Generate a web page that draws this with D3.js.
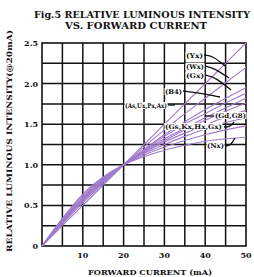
<!DOCTYPE html>
<html><head><meta charset="utf-8">
<script src="https://cdn.jsdelivr.net/npm/d3@7"></script>
<style>body{margin:0;background:#fff}svg{display:block}</style>
</head><body>
<svg id="c" width="254" height="277"></svg>
<script>
const current = [0,5,10,15,20,25,30,35,40,45,50];
const Yx  = [0,0.25,0.50,0.75,1,1.25,1.50,1.75,2.00,2.25,2.50];
const Wx  = [0,0.27,0.53,0.77,1,1.22,1.43,1.63,1.82,2.01,2.20];
const Gx  = [0,0.29,0.55,0.79,1,1.19,1.37,1.53,1.68,1.82,1.95];
const B4  = [0,0.29,0.56,0.79,1,1.18,1.35,1.50,1.63,1.76,1.88];
const AsUxPxAx = [0,0.30,0.57,0.80,1,1.17,1.32,1.45,1.58,1.70,1.82];
const S6  = [0,0.30,0.58,0.81,1,1.16,1.30,1.43,1.55,1.66,1.76];
const GdG8 = [0,0.31,0.59,0.82,1,1.15,1.28,1.39,1.49,1.59,1.67];
const S8  = [0,0.32,0.60,0.83,1,1.14,1.25,1.35,1.44,1.52,1.58];
const GsKxHxGx = [0,0.33,0.62,0.84,1,1.12,1.22,1.30,1.37,1.43,1.48];
const Nx  = [0,0.34,0.64,0.85,1,1.10,1.18,1.24,1.29,1.32,1.34];
const series = [Yx,Wx,Gx,B4,AsUxPxAx,S6,GdG8,S8,GsKxHxGx,Nx];
const xTicks = [10,20,30,40,50];
const yTicks = [0,0.5,1.0,1.5,2.0,2.5];
const yTickLabels = ["0","0.5","1.0","1.5","2.0","2.5"];

const svg = d3.select("#c");
const x = d3.scaleLinear().domain([0,50]).range([42,246]);
const y = d3.scaleLinear().domain([0,2.5]).range([246,43]);
const font = "'DejaVu Serif', serif";
const ink = "#111";

// grid
const g = svg.append("g").attr("stroke", ink).attr("stroke-width", 1.5);
d3.range(5,50,5).forEach(v => g.append("line").attr("x1",x(v)).attr("x2",x(v)).attr("y1",y(0)).attr("y2",y(2.5)));
d3.range(0.25,2.5,0.25).forEach(v => g.append("line").attr("x1",x(0)).attr("x2",x(50)).attr("y1",y(v)).attr("y2",y(v)));
svg.append("rect").attr("x",x(0)).attr("y",y(2.5)).attr("width",x(50)-x(0)).attr("height",y(0)-y(2.5))
  .attr("fill","none").attr("stroke",ink).attr("stroke-width",1.6);

// curves
const line = d3.line().x((d,i)=>x(current[i])).y(d=>y(d)).curve(d3.curveMonotoneX);
svg.append("g").selectAll("path").data(series).join("path")
  .attr("d", line).attr("fill","none").attr("stroke","#a07acb").attr("stroke-width",1.1);

// tick labels
svg.append("g").selectAll("text").data(xTicks).join("text")
  .attr("x", d=>x(d)).attr("y", 258).attr("text-anchor","middle")
  .attr("font-family",font).attr("font-weight","bold").attr("font-size",8).attr("fill",ink).text(d=>d);
svg.append("g").selectAll("text").data(yTicks).join("text")
  .attr("x", 38).attr("y", d=>y(d)+3).attr("text-anchor","end")
  .attr("font-family",font).attr("font-weight","bold").attr("font-size",8).attr("fill",ink).text((d,i)=>yTickLabels[i]);

// titles
const t = (txt, px, py, len, size) => svg.append("text").attr("x",px).attr("y",py)
  .attr("text-anchor","middle").attr("font-family",font).attr("font-weight","bold")
  .attr("font-size",size).attr("fill",ink).attr("textLength",len).attr("lengthAdjust","spacingAndGlyphs").text(txt);
t("Fig.5 RELATIVE LUMINOUS INTENSITY", 142, 18, 216, 9);
t("VS. FORWARD CURRENT", 136, 29, 142, 9);
t("FORWARD CURRENT (mA)", 150, 275, 124, 8);
svg.append("text").attr("transform","translate(12,141) rotate(-90)").attr("text-anchor","middle")
  .attr("font-family",font).attr("font-weight","bold").attr("font-size",7.5).attr("fill",ink)
  .attr("textLength",222).attr("lengthAdjust","spacingAndGlyphs").text("RELATIVE LUMINOUS INTENSITY(@20mA)");

// series labels
const labels = [
  {t:"(Yx)", x:186, y:58, w:17, pts:[[204,55],[213,56],[225,66]]},
  {t:"(Wx)", x:186, y:69, w:18, pts:[[205,66],[214,68],[229,78]]},
  {t:"(Gx)", x:186, y:78, w:18, pts:[[205,75],[215,77],[231,90]]},
  {t:"(B4)", x:165, y:94, w:17, pts:[[183,91],[200,93],[220,97]]},
  {t:"(As,Ux,Px,Ax)", x:125, y:108, w:42, pts:[[168,105],[175,105]]},
  {t:"(Gd,G8)", x:215, y:118, w:31, pts:[[205,116],[214,116]]},
  {t:"(Gs,Kx,Hx,Gx)", x:165, y:129, w:57, pts:[[224,127],[230,127],[234,122]]},
  {t:"(Nx)", x:207, y:148, w:17, pts:[[226,146],[231,145],[235,138]]}
];
labels.forEach(l => {
  svg.append("rect").attr("x",l.x-0.5).attr("y",l.y-6).attr("width",l.w+1).attr("height",7).attr("fill","#fff");
  svg.append("text").attr("x",l.x).attr("y",l.y).attr("font-family",font).attr("font-weight","bold")
    .attr("font-size",6.5).attr("fill",ink).attr("textLength",l.w).attr("lengthAdjust","spacingAndGlyphs").text(l.t);
  svg.append("path").attr("d", d3.line().curve(d3.curveBasis)(l.pts)).attr("fill","none")
    .attr("stroke",ink).attr("stroke-width",1.3);
});
</script>
</body></html>
